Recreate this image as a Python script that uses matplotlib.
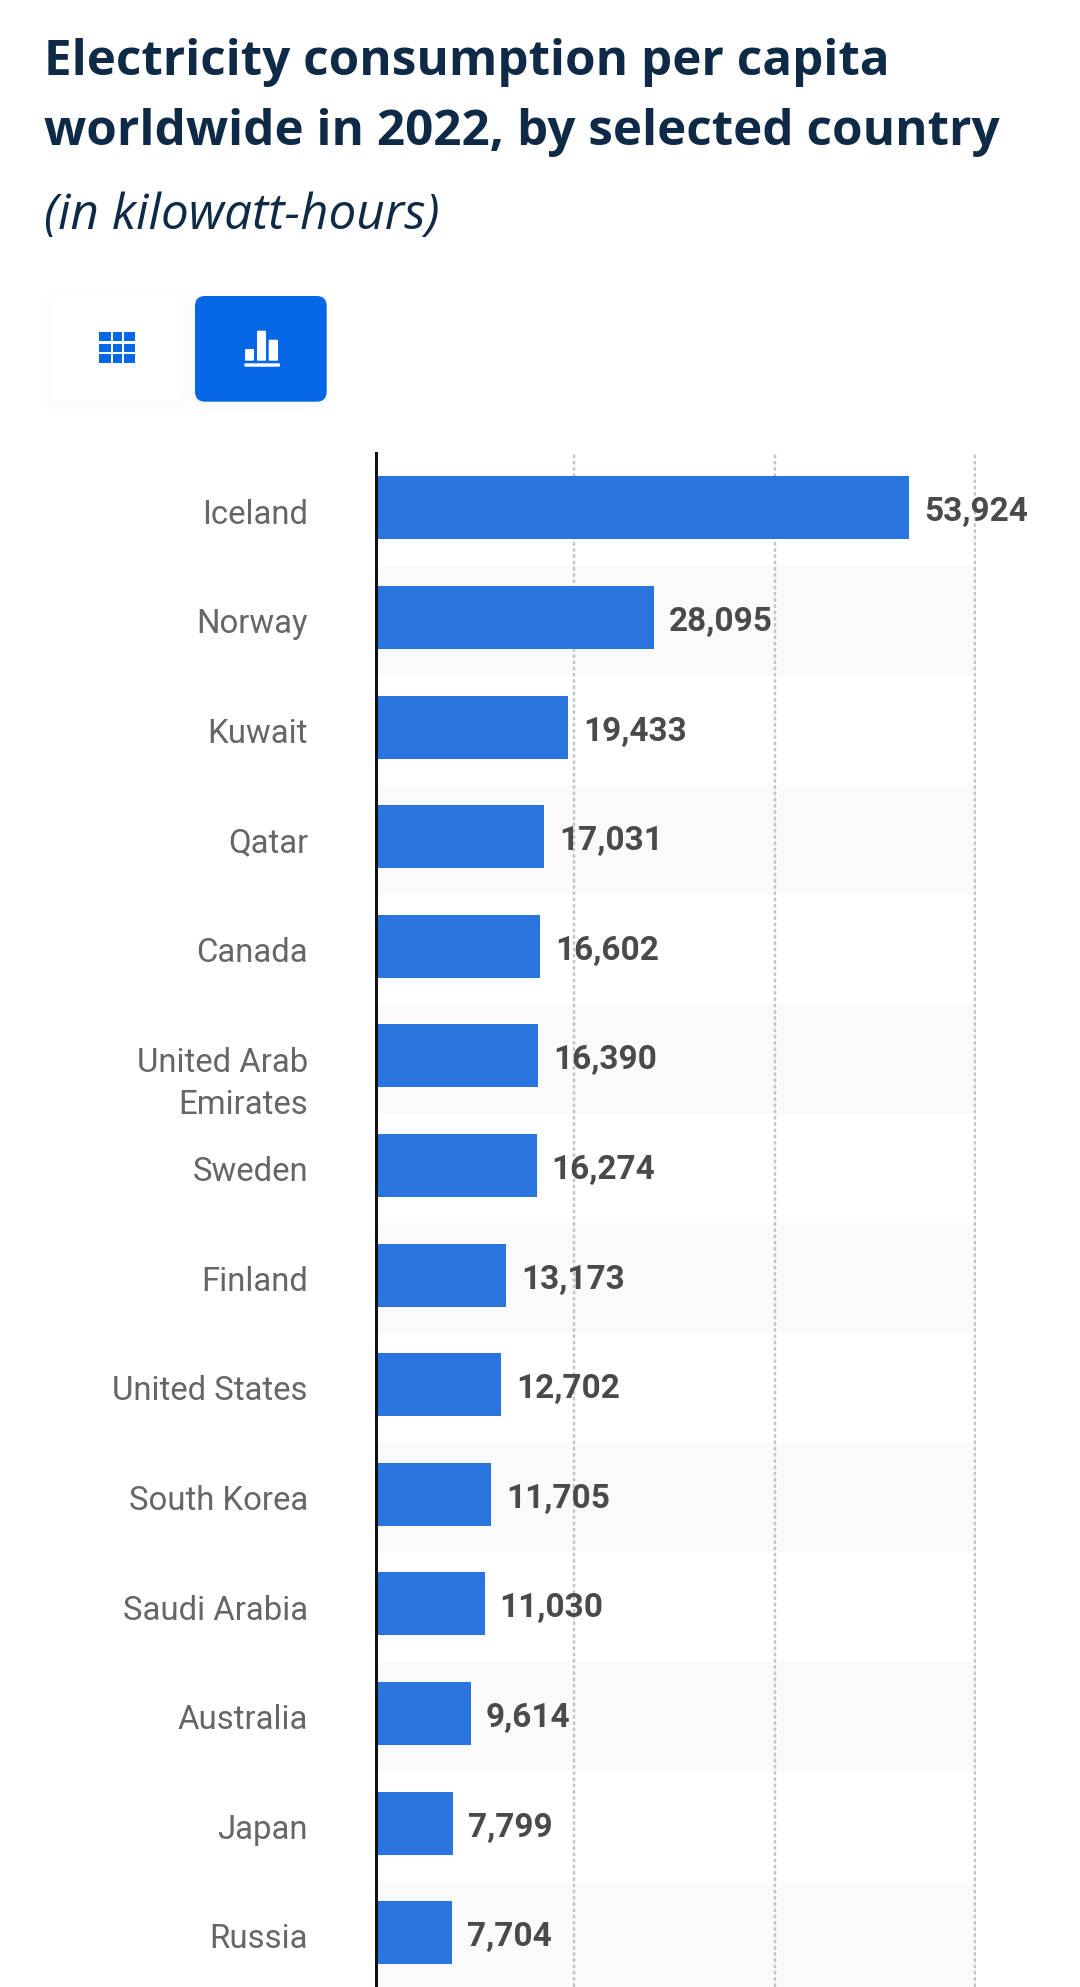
import matplotlib
matplotlib.use("Agg")
import matplotlib.pyplot as plt
from matplotlib.patches import FancyBboxPatch, Rectangle

countries = ["Iceland", "Norway", "Kuwait", "Qatar", "Canada", "United Arab\nEmirates", "Sweden",
             "Finland", "United States", "South Korea", "Saudi Arabia", "Australia", "Japan", "Russia"]
consumption = [53924, 28095, 19433, 17031, 16602, 16390, 16274,
               13173, 12702, 11705, 11030, 9614, 7799, 7704]
grid_ticks = [20000, 40350, 60600]

W, H = 1080, 1987
px = 72 / 100
fig = plt.figure(figsize=(W / 100, H / 100), dpi=100, facecolor="white")

# page overlay in pixel coordinates
page = fig.add_axes([0, 0, 1, 1], zorder=0)
page.set_xlim(0, W)
page.set_ylim(H, 0)
page.axis("off")

title_color = "#0f2a47"
page.text(44.5, 74.6, "Electricity consumption per capita", family="Open Sans", weight="bold",
          size=49.45 * px, color=title_color, va="baseline")
page.text(44.5, 144.7, "worldwide in 2022, by selected country", family="Open Sans", weight="bold",
          size=49.45 * px, color=title_color, va="baseline")
page.text(44.5, 229.0, "(in kilowatt-hours)", family="Open Sans", style="italic",
          size=49.4 * px, color=title_color, va="baseline")


def button(x0, y0, x1, y1, color):
    for grow, alpha in [(8, 0.003), (6, 0.004), (4, 0.005), (2, 0.006)]:
        page.add_patch(FancyBboxPatch((x0 - grow + 9, y0 - grow + 13), x1 - x0 + 2 * grow - 18, y1 - y0 + 2 * grow - 18,
                                      boxstyle="round,pad=9,rounding_size=10", fc="#1a2a4a", ec="none", alpha=alpha))
    page.add_patch(FancyBboxPatch((x0 + 9, y0 + 9), x1 - x0 - 18, y1 - y0 - 18,
                                  boxstyle="round,pad=9,rounding_size=10", fc=color, ec="none"))


button(50.7, 296, 182.7, 401.7, "#ffffff")
button(195, 296, 326.7, 401.7, "#0667e6")

blue = "#0667e6"
for xa, xb in [(99, 110.5), (112.5, 121.5), (124, 135)]:
    for ya, yb in [(332.3, 341.5), (343.5, 351.5), (354, 362.7)]:
        page.add_patch(Rectangle((xa, ya), xb - xa, yb - ya, fc=blue, ec="none"))
for xa, xb, ya, yb in [(245, 254, 349, 360.7), (257, 266, 330.7, 360.7), (268.7, 278, 339.7, 360.7), (244.3, 280, 363.3, 366.7)]:
    page.add_patch(FancyBboxPatch((xa + 1, ya + 1), xb - xa - 2, yb - ya - 2,
                                  boxstyle="round,pad=1,rounding_size=1", fc="white", ec="none"))

# chart
x0, x1, y_top = 375.5, 975.5, 452.7
ax = fig.add_axes([x0 / W, 0, (x1 - x0) / W, (H - y_top) / H], zorder=1)
ax.patch.set_alpha(0)

row0, row_step = 507.9, 109.6
n = len(countries)
positions = list(range(n))
ax.set_ylim((H - row0) / row_step, (y_top - row0) / row_step)
ax.set_xlim(0, 60606)

band_shift = 3 / row_step
for i in positions:
    if i % 2 == 1:
        ax.axhspan(i - 0.5 + band_shift, i + 0.5 + band_shift, fc="#fafafa", ec="none", zorder=0)

ax.barh(positions, consumption, height=63 / row_step, color="#2a75dd", linewidth=0, zorder=2)

ax.set_xticks(grid_ticks)
ax.set_xticklabels([])
ax.grid(axis="x", color="#c4c4c4", linewidth=2.4 * px, linestyle=(0, (1.5, 1.1)), zorder=1)
ax.set_axisbelow(True)
ax.tick_params(axis="both", length=0)
for s in ["top", "right", "bottom"]:
    ax.spines[s].set_visible(False)
ax.spines["left"].set_linewidth(3 * px)
ax.spines["left"].set_color("#111111")
ax.spines["left"].set_zorder(3)

ax.set_yticks(positions)
ax.set_yticklabels([])
for i, name in zip(positions, countries):
    for k, line in enumerate(name.split("\n")):
        ax.annotate(line, (0, i), xytext=(-67.5 * px, (-15.8 - 42 * k) * px), textcoords="offset points",
                    family="Roboto", size=23.7, color="#666666", va="baseline", ha="right",
                    annotation_clip=False)

for i, v in zip(positions, consumption):
    ax.annotate(f"{v:,}", (v, i), xytext=(15 * px, -13.5 * px), textcoords="offset points",
                family="Roboto", weight="bold", size=24, color="#4a4a4a", va="baseline", ha="left",
                annotation_clip=False, zorder=4)

fig.savefig("out.png", dpi=100, facecolor="white")
